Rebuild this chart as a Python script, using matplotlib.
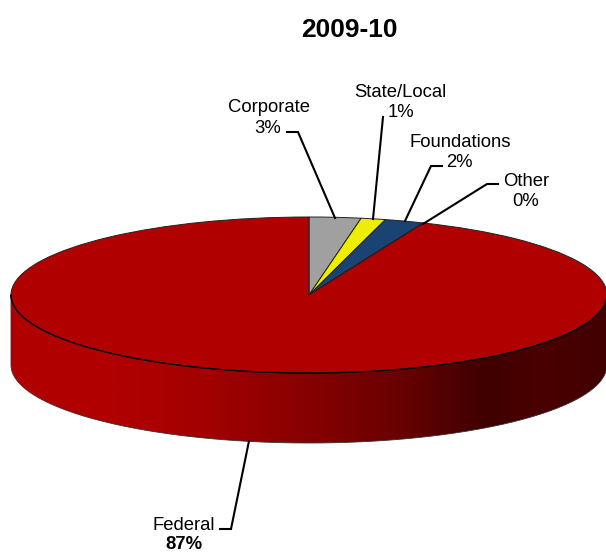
import numpy as np
import matplotlib
matplotlib.use('Agg')
import matplotlib.pyplot as plt
from matplotlib.colors import LinearSegmentedColormap
from matplotlib.patches import PathPatch
from matplotlib.path import Path

plt.rcParams['font.family'] = ['Liberation Sans', 'DejaVu Sans']

# slice shares, the printed labels differ from them
names = ['Corporate', 'State/Local', 'Foundations', 'Other', 'Federal']
shares = [2.8, 1.33, 2.12, 0.04, 93.71]
pct_labels = ['3%', '1%', '2%', '0%', '87%']
colors = ['#a0a0a0', '#eeee00', '#1a4272', '#1a4272', '#b00000']

W, H = 606, 553
cx, cy = 309, 295
rx, ry = 298, 78
depth = 70

fig = plt.figure(figsize=(W / 100, H / 100), dpi=100)
ax = fig.add_axes([0, 0, 1, 1])
ax.axis('off')

wedges, _ = ax.pie(shares, colors=colors, startangle=90, counterclock=False, radius=1,
                   wedgeprops=dict(edgecolor='#222222', linewidth=0.7))
for w in wedges:
    w.set_zorder(3)
ax.set_aspect('auto')

# side wall of the disc, gradient clipped to the lower half outline
d = depth / ry
t = np.linspace(np.pi, 2 * np.pi, 200)
top = np.column_stack([np.cos(t), np.sin(t)])
bottom = top[::-1] + [0, -d]
wall = PathPatch(Path(np.vstack([top, bottom, top[:1]])), facecolor='none',
                 edgecolor='#333333', linewidth=0.6, zorder=2)
ax.add_patch(wall)
cmap = LinearSegmentedColormap.from_list('wall', [
    (0.0, '#b00000'), (0.18, '#b00000'), (0.32, '#a30000'), (0.48, '#8a0000'),
    (0.65, '#6a0000'), (0.80, '#3f0000'), (0.89, '#4a0000'), (1.0, '#420000')])
grad = ax.imshow(np.linspace(0, 1, 300)[None, :], cmap=cmap, aspect='auto',
                 extent=(-1, 1, -1 - d, 0), zorder=1)
grad.set_clip_path(wall)
ax.plot(top[:, 0], top[:, 1], color='black', lw=1.0, zorder=4)
ax.set_xlim(-cx / rx, (W - cx) / rx)
ax.set_ylim((cy - H) / ry, cy / ry)

# overlay in pixel units for the title, labels and leader lines
ov = fig.add_axes([0, 0, 1, 1])
ov.axis('off')
ov.set_xlim(0, W)
ov.set_ylim(H, 0)

ov.text(349, 37, '2009-10', fontsize=19, fontweight='bold', ha='center', va='baseline')

leaders = [
    ([287, 298, 335], [132, 132, 218]),
    ([383, 373], [117, 219]),
    ([442, 431, 405], [166, 166, 221]),
    ([498, 487, 423], [184, 184, 224]),
    ([220, 231, 249], [529, 529, 441]),
]
for lx, ly in leaders:
    ov.plot(lx, ly, color='black', lw=1.5, solid_joinstyle='miter')

fs = 13.3
ov.text(269, 112, names[0], fontsize=fs, ha='center', va='baseline')
ov.text(268, 133, pct_labels[0], fontsize=fs, ha='center', va='baseline')
ov.text(400.5, 97, names[1], fontsize=fs, ha='center', va='baseline')
ov.text(401, 117, pct_labels[1], fontsize=fs, ha='center', va='baseline')
ov.text(460, 147, names[2], fontsize=fs, ha='center', va='baseline')
ov.text(459, 167, pct_labels[2], fontsize=fs, ha='center', va='baseline')
ov.text(526, 186, names[3], fontsize=fs, ha='center', va='baseline')
ov.text(526, 206, pct_labels[3], fontsize=fs, ha='center', va='baseline')
ov.text(184, 530, names[4], fontsize=fs, ha='center', va='baseline')
ov.text(184, 549, pct_labels[4], fontsize=fs, fontweight='bold', ha='center', va='baseline')

fig.savefig('out.png', dpi=100)
